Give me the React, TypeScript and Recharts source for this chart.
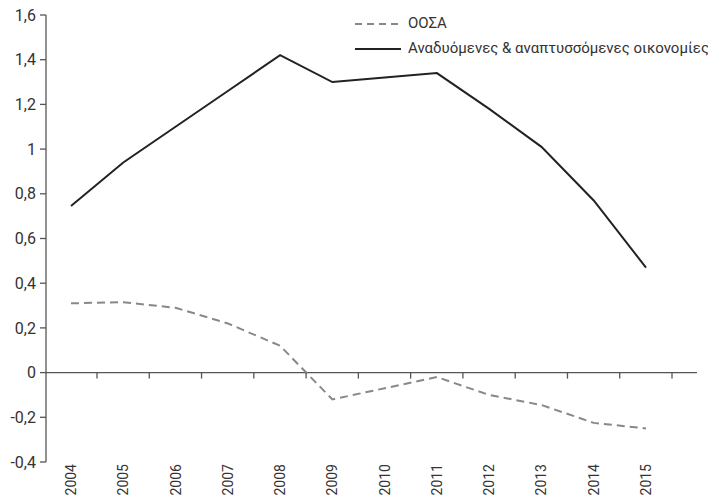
import React from 'react';
import { LineChart, Line, XAxis, YAxis, ReferenceLine } from 'recharts';

const years = ['2004', '2005', '2006', '2007', '2008', '2009', '2010', '2011', '2012', '2013', '2014', '2015'];
const oecd = [0.31, 0.315, 0.29, 0.22, 0.12, -0.12, -0.07, -0.02, -0.1, -0.145, -0.225, -0.25];
const emerging = [0.745, 0.94, 1.1, 1.26, 1.42, 1.3, 1.32, 1.34, 1.18, 1.01, 0.77, 0.47];
const yTicks = [-0.4, -0.2, 0, 0.2, 0.4, 0.6, 0.8, 1, 1.2, 1.4, 1.6];

const SERIES_OECD = 'ΟΟΣΑ';
const SERIES_EM = 'Αναδυόμενες & αναπτυσσόμενες οικονομίες';

const data = years.map((year, i) => ({ year, oecd: oecd[i], emerging: emerging[i] }));

const W = 708;
const H = 498;
const TOP = 15;
const X_AXIS_H = 36;
const HALF_STEP = 26;
const FONT = 'Roboto, "Liberation Sans", sans-serif';

// plot height and how far the zero line sits above the bottom
const plotH = H - TOP - X_AXIS_H;
const zeroFromBottom = plotH * (0 - yTicks[0]) / (yTicks[yTicks.length - 1] - yTicks[0]);

const fmt = (v: number) => String(Math.round(v * 10) / 10).replace('.', ',');

// rotated year label, plus a tick mark on the zero line between years
const YearTick = (props: any) => {
  const { x, y, payload } = props;
  const zeroY = y - zeroFromBottom;
  return (
    <g>
      <line x1={x + HALF_STEP} y1={zeroY} x2={x + HALF_STEP} y2={zeroY + 6} stroke="#555" strokeWidth={1.3} />
      <text
        x={x}
        y={y + 2}
        transform={`rotate(-90, ${x}, ${y + 2})`}
        textAnchor="end"
        dominantBaseline="central"
        fontFamily={FONT}
        fontSize={14}
        fill="#333"
      >
        {payload.value}
      </text>
    </g>
  );
};

const LegendBox = () => (
  <div
    style={{
      position: 'absolute',
      top: 11,
      left: 355,
      fontFamily: FONT,
      fontSize: 15,
      color: '#333',
      lineHeight: '25px',
      whiteSpace: 'nowrap',
    }}
  >
    <div style={{ display: 'flex', alignItems: 'center' }}>
      <svg width={46} height={10} style={{ marginRight: 7 }}>
        <line x1={0} y1={5} x2={46} y2={5} stroke="#888" strokeWidth={2} strokeDasharray="7 5" />
      </svg>
      <span>{SERIES_OECD}</span>
    </div>
    <div style={{ display: 'flex', alignItems: 'center' }}>
      <svg width={46} height={10} style={{ marginRight: 7 }}>
        <line x1={0} y1={5} x2={46} y2={5} stroke="#222" strokeWidth={2} />
      </svg>
      <span>{SERIES_EM}</span>
    </div>
  </div>
);

export default function App() {
  return (
    <div style={{ position: 'absolute', left: 0, top: 0, width: W, height: H, background: '#fff' }}>
      <LineChart width={W} height={H} data={data} margin={{ top: TOP, right: 11, bottom: 0, left: 0 }}>
        <XAxis
          dataKey="year"
          height={X_AXIS_H}
          axisLine={false}
          tickLine={false}
          tickSize={0}
          tickMargin={0}
          interval={0}
          padding={{ left: 25, right: 51 }}
          tick={<YearTick />}
        />
        <YAxis
          width={46}
          domain={[-0.4, 1.6]}
          ticks={yTicks}
          interval={0}
          tickFormatter={fmt}
          axisLine={{ stroke: '#555', strokeWidth: 1.3 }}
          tickLine={{ stroke: '#555', strokeWidth: 1.3 }}
          tickSize={6}
          tickMargin={4}
          tick={{ fontFamily: FONT, fontSize: 16, fill: '#333' }}
        />
        <ReferenceLine y={0} stroke="#555" strokeWidth={1.3} />
        <Line
          type="linear"
          dataKey="oecd"
          name={SERIES_OECD}
          stroke="#888"
          strokeWidth={2}
          strokeDasharray="8 5"
          dot={false}
          isAnimationActive={false}
        />
        <Line
          type="linear"
          dataKey="emerging"
          name={SERIES_EM}
          stroke="#222"
          strokeWidth={2}
          dot={false}
          isAnimationActive={false}
        />
      </LineChart>
      <LegendBox />
    </div>
  );
}
